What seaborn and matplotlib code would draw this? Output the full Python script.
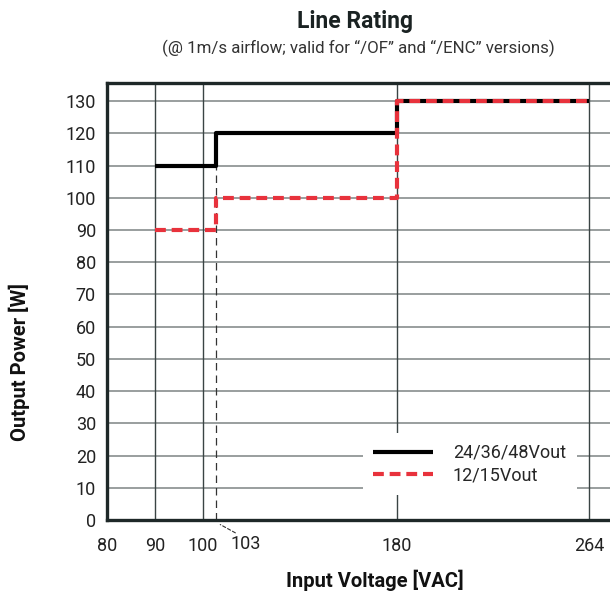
import numpy as np
import pandas as pd
import matplotlib
matplotlib.use("Agg")
import matplotlib.pyplot as plt
import seaborn as sns

# ---- data ----
voltage = [90, 103, 180, 264]
power_24_36_48 = [110, 120, 130, 130]
power_12_15 = [90, 100, 130, 130]
x_ticks = [80, 90, 100, 180, 264]
y_ticks = list(range(0, 140, 10))
series_names = ["24/36/48Vout", "12/15Vout"]
break_voltage = 103

sns.set_theme(style="white")
plt.rcParams['font.family'] = ['Roboto', 'DejaVu Sans']

# piecewise axis mapping (non-linear voltage axis)
_vals = np.array([70, 80, 90, 100, 103, 180, 264, 290])
_pix = np.array([59, 107, 155, 203, 216, 397, 590, 650.0])
def fwd(x):
    return np.interp(x, _vals, _pix)
def inv(p):
    return np.interp(p, _pix, _vals)

fig = plt.figure(figsize=(6.10, 5.96), dpi=100)
ax = fig.add_axes([107/610, 76/596, 1 - 107/610 + 0.002, (520-83)/596])
ax.set_xscale('function', functions=(fwd, inv))

df1 = pd.DataFrame({"x": voltage, "y": power_24_36_48})
df2 = pd.DataFrame({"x": voltage, "y": power_12_15})

# dashed guide at 103
ax.plot([break_voltage, break_voltage], [0, power_24_36_48[0]], color="#333333",
        lw=0.9, ls=(0, (6, 4)), zorder=2)

sns.lineplot(data=df1, x="x", y="y", ax=ax, color="black", lw=3.0,
             drawstyle="steps-post", label=series_names[0], zorder=3,
             solid_capstyle="butt")
sns.lineplot(data=df2, x="x", y="y", ax=ax, color="#e8323c", lw=3.0,
             drawstyle="steps-post", label=series_names[1], zorder=4,
             dashes=False, linestyle=(0, (2.6, 1.4)))

ax.set_xlim(80, inv(612))
ax.set_ylim(0, 135.6)
ax.set_xticks(x_ticks)
ax.set_xticklabels([str(t) for t in x_ticks])
ax.set_yticks(y_ticks)
ax.minorticks_off()

# grid
for yv in y_ticks[1:]:
    ax.axhline(yv, color="#7d8484", lw=1.1, zorder=1)
for xv in x_ticks[1:]:
    ax.axvline(xv, color="#3a4444", lw=1.0, zorder=1)

ax.tick_params(axis='y', length=0, labelsize=13, colors="#222222", pad=8)
ax.tick_params(axis='x', length=0, labelsize=13, colors="#222222", pad=12)
for side in ["left", "bottom", "top"]:
    ax.spines[side].set_color("#1e2828")
    ax.spines[side].set_linewidth(2.4)
ax.spines["right"].set_visible(False)

# 103 label with leader line
ax.annotate("", xy=(inv(218), -1.0), xytext=(inv(238), -4.4),
            xycoords='data', annotation_clip=False,
            arrowprops=dict(arrowstyle='-', color="#333333", lw=0.8, ls=(0, (3, 2))))
ax.text(inv(246), -4.6, str(break_voltage), ha='center', va='top',
        fontsize=13, color="#222222", clip_on=False)

ax.set_xlabel("Input Voltage [VAC]", fontsize=14.5, fontweight='bold', color="#111111")
ax.xaxis.set_label_coords((374-107)/503, (520-580)/437)
ax.xaxis.label.set_va('center')
ax.set_ylabel("Output Power [W]", fontsize=14.5, fontweight='bold', color="#111111")
ax.yaxis.set_label_coords((20-107)/503, (520-362)/437)
ax.yaxis.label.set_va('center')

fig.text(0.582, 0.964, "Line Rating", ha='center', va='center', fontsize=16.5,
         fontweight='bold', color="#1a2222")
fig.text(0.587, 0.919, "(@ 1m/s airflow; valid for \u201c/OF\u201d and \u201c/ENC\u201d versions)",
         ha='center', va='center', fontsize=12.2, color="#333333")

leg = ax.legend(loc='upper left',
                frameon=True, facecolor='white', edgecolor='none', framealpha=1,
                fontsize=13, handlelength=3.3, handletextpad=1.1,
                borderpad=0.6, borderaxespad=0, labelspacing=0.25)
leg.set_zorder(5)
leg.get_frame().set_boxstyle('square', pad=0)
leg.set_bbox_to_anchor(((362-107)/503, (520-433)/437), transform=ax.transAxes)

fig.savefig("out.png", dpi=100)
